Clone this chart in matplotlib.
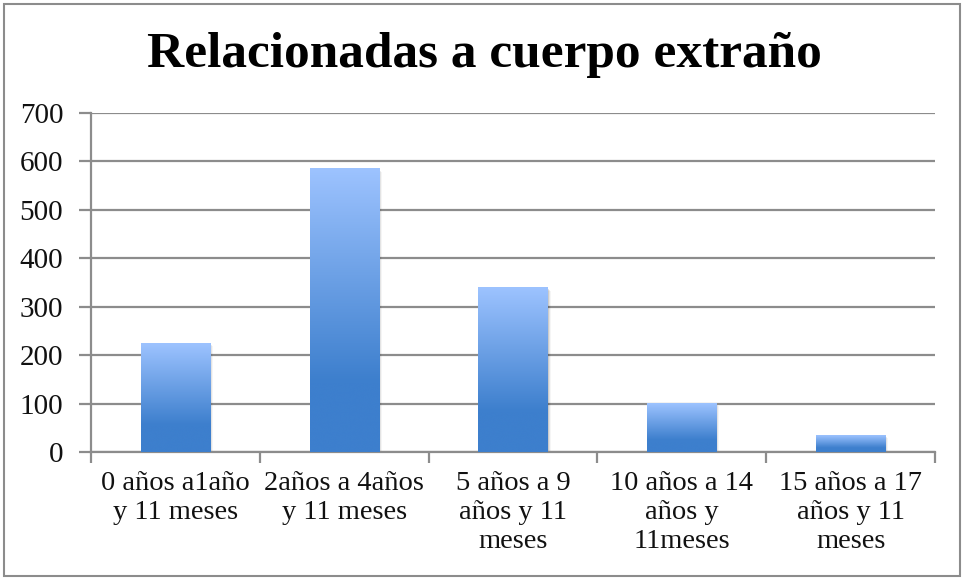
import matplotlib
matplotlib.use('Agg')
import matplotlib.pyplot as plt
import matplotlib.patches as mpatches
import numpy as np
from matplotlib.colors import LinearSegmentedColormap

# data
categories = ['0 años a1año\ny 11 meses',
              '2años a 4años\ny 11 meses',
              '5 años a 9\naños y 11\nmeses',
              '10 años a 14\naños y\n11meses',
              '15 años a 17\naños y 11\nmeses']
values = [225, 585, 339, 101, 35]
y_ticks = [0, 100, 200, 300, 400, 500, 600, 700]
title = 'Relacionadas a cuerpo extraño'

C_GRID = '#8c8c8c'
C_TOP = '#9dc3ff'
C_BOT = '#3d7fcd'
grad_cmap = LinearSegmentedColormap.from_list(
    'bar', [(0.0, C_BOT), (0.25, C_BOT), (1.0, C_TOP)])

plt.rcParams['font.family'] = ['Liberation Serif', 'DejaVu Serif']

fig = plt.figure(figsize=(9.64, 5.8), dpi=100, facecolor='white')
ax = fig.add_axes([91 / 964, 128 / 580, 844 / 964, 339 / 580])

x = np.arange(len(categories))
bars = ax.bar(x, values, width=0.41, color='none', zorder=3)

# gradient fill + soft shadow per bar
grad = np.linspace(0, 1, 256).reshape(-1, 1)
for b in bars:
    x0, y0 = b.get_x(), b.get_y()
    w, h = b.get_width(), b.get_height()
    for k, a in enumerate([0.10, 0.07, 0.04]):
        d = 0.006 * (k + 1)
        sh = mpatches.Rectangle((x0 + d, y0 - 2 * (k + 1)), w, h, facecolor='black',
                                alpha=a, edgecolor='none', zorder=2)
        ax.add_patch(sh)
    ax.imshow(grad, cmap=grad_cmap, aspect='auto', origin='lower',
              extent=(x0, x0 + w, y0, y0 + h), zorder=3, interpolation='bicubic')

ax.set_xlim(-0.5, len(categories) - 0.5)
ax.set_ylim(0, 700)
ax.set_yticks(y_ticks)
ax.set_yticklabels([str(t) for t in y_ticks], fontsize=21, color='#111111')
ax.yaxis.grid(True, color=C_GRID, linewidth=1.6, zorder=0)
ax.set_axisbelow(True)
ax.tick_params(axis='y', length=9, width=1.6, color=C_GRID, pad=11)

# category labels between boundary ticks
ax.set_xticks(np.arange(len(categories) + 1) - 0.5)
ax.set_xticklabels([])
ax.tick_params(axis='x', length=8, width=1.6, color=C_GRID)
for xi, lab in zip(x, categories):
    ax.text(xi, -0.055, lab, transform=ax.get_xaxis_transform(),
            ha='center', va='top', fontsize=20.5, linespacing=1.22, color='#111111')

for s in ['top', 'right']:
    ax.spines[s].set_visible(False)
for s in ['left', 'bottom']:
    ax.spines[s].set_color(C_GRID)
    ax.spines[s].set_linewidth(1.6)

fig.text(484 / 964, 1 - 55 / 580, title, ha='center', va='center',
         fontsize=37, fontweight='bold', color='black')

# outer chart border
fig.patches.append(mpatches.Rectangle((4 / 964, 4 / 580), 956 / 964, 572 / 580,
                                      transform=fig.transFigure, fill=False,
                                      edgecolor=C_GRID, linewidth=1.5))

fig.savefig('out.png', dpi=100, facecolor='white')
